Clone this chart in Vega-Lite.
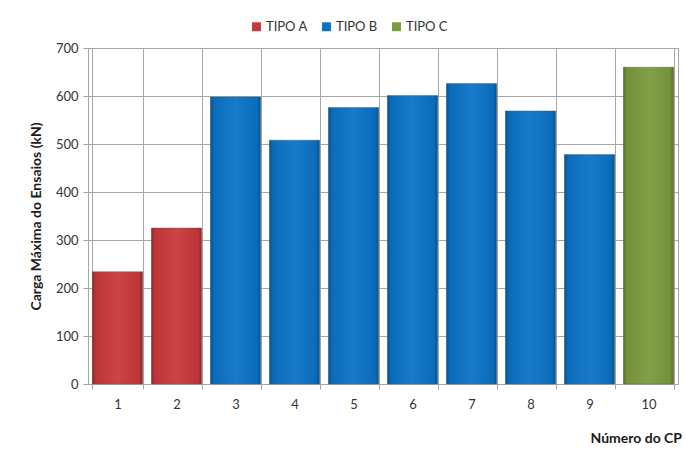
{
  "$schema": "https://vega.github.io/schema/vega-lite/v6.json",
  "width": 590,
  "height": 336,
  "autosize": {"type": "none"},
  "padding": {"left": 88, "top": 48, "right": 8, "bottom": 66},
  "background": "white",
  "config": {
    "font": "Lato",
    "view": {"stroke": "#a6a6a6", "strokeWidth": 1},
    "axis": {
      "gridColor": "#a6a6a6",
      "gridOpacity": 1,
      "tickColor": "#a6a6a6",
      "domainColor": "#a6a6a6",
      "tickSize": 5,
      "labelFontSize": 13,
      "labelColor": "#333333",
      "titleFontSize": 14,
      "titleFontWeight": "bold",
      "titleColor": "#1a1a1a"
    }
  },
  "data": {
    "values": [
      {"cp": 1, "carga": 234, "tipo": "TIPO A"},
      {"cp": 2, "carga": 325, "tipo": "TIPO A"},
      {"cp": 3, "carga": 598, "tipo": "TIPO B"},
      {"cp": 4, "carga": 508, "tipo": "TIPO B"},
      {"cp": 5, "carga": 576, "tipo": "TIPO B"},
      {"cp": 6, "carga": 601, "tipo": "TIPO B"},
      {"cp": 7, "carga": 626, "tipo": "TIPO B"},
      {"cp": 8, "carga": 569, "tipo": "TIPO B"},
      {"cp": 9, "carga": 478, "tipo": "TIPO B"},
      {"cp": 10, "carga": 660, "tipo": "TIPO C"}
    ]
  },
  "encoding": {
    "x": {
      "field": "cp",
      "type": "ordinal",
      "scale": {"paddingInner": 0.15, "paddingOuter": 0.075},
      "axis": {
        "tickBand": "extent",
        "grid": true,
        "labelAngle": 0,
        "labelPadding": 9,
        "title": "Número do CP",
        "titleX": 502,
        "titleY": 58,
        "titleAlign": "left",
        "titleAnchor": null,
        "titleBaseline": "alphabetic"
      }
    },
    "y": {
      "field": "carga",
      "type": "quantitative",
      "scale": {"domain": [0, 700], "nice": false},
      "axis": {
        "values": [0, 100, 200, 300, 400, 500, 600, 700],
        "grid": true,
        "labelPadding": 5,
        "title": "Carga Máxima do Ensaios (kN)",
        "titlePadding": 12
      }
    }
  },
  "layer": [
    {
      "mark": {"type": "bar", "stroke": "#4d4d4d", "strokeWidth": 0.6, "strokeOpacity": 0.6},
      "encoding": {
        "color": {
          "field": "tipo",
          "type": "nominal",
          "scale": {"domain": ["TIPO A", "TIPO B", "TIPO C"], "range": ["#C9383A", "#0A72C6", "#7B9A3C"]},
          "legend": {
            "orient": "none",
            "legendX": 162,
            "legendY": -28,
            "direction": "horizontal",
            "title": null,
            "symbolType": "square",
            "symbolSize": 80,
            "symbolStrokeWidth": 0,
            "labelFontSize": 13,
            "labelColor": "#333333",
            "columnPadding": 12,
            "labelOffset": 3
          }
        }
      }
    },
    {
      "mark": {
        "type": "bar",
        "fill": {
          "gradient": "linear",
          "x1": 0, "y1": 0, "x2": 1, "y2": 0,
          "stops": [
            {"offset": 0, "color": "rgba(0,0,0,0.28)"},
            {"offset": 0.07, "color": "rgba(0,0,0,0.06)"},
            {"offset": 0.5, "color": "rgba(255,255,255,0.06)"},
            {"offset": 0.93, "color": "rgba(0,0,0,0.06)"},
            {"offset": 1, "color": "rgba(0,0,0,0.28)"}
          ]
        }
      }
    }
  ]
}
